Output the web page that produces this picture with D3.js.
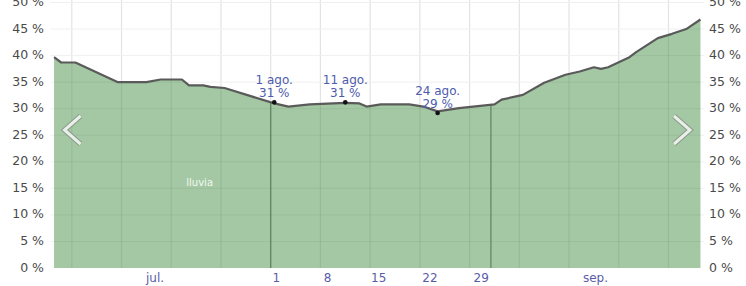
<!DOCTYPE html>
<html>
<head>
<meta charset="utf-8">
<script src="https://cdn.jsdelivr.net/npm/d3@7"></script>
<style>
  body { margin: 0; background: #fff; }
  svg { display: block; font-family: "DejaVu Sans", sans-serif; }
</style>
</head>
<body>
<svg id="chart" width="746" height="286"></svg>
<script>
// daily chance of rain (%)
var dates = ['2023-07-01','2023-07-02','2023-07-04','2023-07-10','2023-07-14','2023-07-16',
    '2023-07-19','2023-07-20','2023-07-22','2023-07-23','2023-07-25','2023-08-01','2023-08-03',
    '2023-08-06','2023-08-11','2023-08-13','2023-08-14','2023-08-16','2023-08-20','2023-08-22',
    '2023-08-24','2023-08-27','2023-09-01','2023-09-02','2023-09-05','2023-09-08','2023-09-11',
    '2023-09-13','2023-09-15','2023-09-16','2023-09-17','2023-09-20','2023-09-21','2023-09-24',
    '2023-09-26','2023-09-28','2023-09-30'];
var rainChance = [39.7, 38.7, 38.7, 35.0, 35.0, 35.5, 35.5, 34.4, 34.4, 34.1, 33.9, 31.0, 30.4,
    30.8, 31.1, 31.0, 30.4, 30.8, 30.8, 30.4, 29.5, 30.1, 30.8, 31.7, 32.6, 34.9, 36.4,
    37.0, 37.8, 37.5, 37.8, 39.7, 40.7, 43.3, 44.1, 45.0, 46.8];

// highlighted points
var markerDates = ['2023-08-01', '2023-08-11', '2023-08-24'];
var markerDay = ['1 ago.', '11 ago.', '24 ago.'];
var markerValue = [31, 31, 29];

var yTicks = [0, 5, 10, 15, 20, 25, 30, 35, 40, 45, 50];
var monthLabels = ['jul.', 'sep.'];
var monthMid = ['2023-07-16', '2023-09-16'];
var augDays = ['2023-08-01','2023-08-08','2023-08-15','2023-08-22','2023-08-29'];
var monthStarts = ['2023-08-01', '2023-09-01'];
var seriesName = 'lluvia';

var parse = d3.timeParse('%Y-%m-%d');
var noon = function(s) { return d3.timeHour.offset(parse(s), 12); };
var data = dates.map(function(d, i) { return { date: noon(d), value: rainChance[i] }; });

var svg = d3.select('#chart');
var left = 50.5, right = 704, bottom = 268;

var x = d3.scaleTime()
    .domain([parse('2023-07-01'), parse('2023-10-01')])
    .range([left, right]);
var y = d3.scaleLinear().domain([0, 50]).range([bottom, bottom - 50 * 5.31]);

var area = d3.area()
    .x(function(d) { return x(d.date); })
    .y0(bottom)
    .y1(function(d) { return y(d.value); });
var line = d3.line()
    .x(function(d) { return x(d.date); })
    .y(function(d) { return y(d.value); });

svg.append('clipPath').attr('id', 'fillclip')
    .append('path').attr('d', area(data));

// grid
var weeks = d3.timeDay.range(parse('2023-06-27'), parse('2023-10-01'), 7)
    .filter(function(d) { return x(d) > left + 4; });
svg.append('g').selectAll('line').data(weeks).enter().append('line')
    .attr('x1', function(d) { return x(d); }).attr('x2', function(d) { return x(d); })
    .attr('y1', 0).attr('y2', bottom)
    .attr('stroke', '#e3e3e3').attr('stroke-width', 1.2);
svg.append('g').selectAll('line').data(yTicks.slice(1)).enter().append('line')
    .attr('x1', left).attr('x2', right)
    .attr('y1', function(d) { return y(d); }).attr('y2', function(d) { return y(d); })
    .attr('stroke', '#f0f0f0');

svg.append('path').attr('d', area(data)).attr('fill', '#a3c8a3');

// grid seen through the fill
var inner = svg.append('g').attr('clip-path', 'url(#fillclip)');
inner.selectAll('line.v').data(weeks).enter().append('line')
    .attr('x1', function(d) { return x(d); }).attr('x2', function(d) { return x(d); })
    .attr('y1', 0).attr('y2', bottom)
    .attr('stroke', '#000').attr('stroke-opacity', 0.07).attr('stroke-width', 1.2);
inner.selectAll('line.h').data(yTicks.slice(1)).enter().append('line')
    .attr('x1', left).attr('x2', right)
    .attr('y1', function(d) { return y(d); }).attr('y2', function(d) { return y(d); })
    .attr('stroke', '#000').attr('stroke-opacity', 0.05);
inner.selectAll('line.m').data(monthStarts).enter().append('line')
    .attr('x1', function(d) { return x(parse(d)); }).attr('x2', function(d) { return x(parse(d)); })
    .attr('y1', 0).attr('y2', bottom)
    .attr('stroke', '#3d5e3e').attr('stroke-opacity', 0.6).attr('stroke-width', 1.3);

svg.append('path').attr('d', line(data))
    .attr('fill', 'none').attr('stroke', '#5a5a5a').attr('stroke-width', 2.2)
    .attr('stroke-linejoin', 'round');

// y labels both sides
var yl = svg.append('g').attr('font-size', 12.5).attr('fill', '#4a4a4a');
yl.selectAll('text.l').data(yTicks).enter().append('text')
    .attr('x', 44).attr('y', function(d) { return y(d) - 1; }).attr('dy', '0.36em')
    .attr('text-anchor', 'end').text(function(d) { return d + ' %'; });
yl.selectAll('text.r').data(yTicks).enter().append('text')
    .attr('x', 709).attr('y', function(d) { return y(d) - 1; }).attr('dy', '0.36em')
    .text(function(d) { return d + ' %'; });

// x labels
var xl = svg.append('g').attr('font-size', 12).attr('fill', '#5a5ca8').attr('text-anchor', 'middle');
xl.selectAll('text.m').data(monthLabels).enter().append('text')
    .attr('x', function(d, i) { return x(parse(monthMid[i])) - 2; }).attr('y', 282)
    .text(function(d) { return d; });
xl.selectAll('text.d').data(augDays).enter().append('text')
    .attr('x', function(d, i) { return x(noon(d)) + 2 + i * 1.5; }).attr('y', 282)
    .text(function(d) { return +d.slice(8); });

// markers + annotations
var mk = svg.append('g').selectAll('g').data(markerDates).enter().append('g')
    .attr('transform', function(d, i) {
        return 'translate(' + x(noon(d)) + ',' + y(markerValue[i] + 0.2) + ')';
    });
mk.append('circle').attr('r', 2.3).attr('fill', '#111');
mk.append('text').attr('y', -18).attr('text-anchor', 'middle').attr('font-size', 12)
    .attr('fill', '#4d5cad').text(function(d, i) { return markerDay[i]; });
mk.append('text').attr('y', -5).attr('text-anchor', 'middle').attr('font-size', 12)
    .attr('fill', '#4d5cad').text(function(d, i) { return markerValue[i] + ' %'; });

svg.append('text').attr('x', x(parse('2023-07-22'))).attr('y', 186)
    .attr('text-anchor', 'middle').attr('font-size', 10).attr('fill', '#f2f7f2')
    .text(seriesName);

// nav chevrons
var chev = svg.append('g').attr('fill', 'none').attr('stroke-linejoin', 'miter');
[[left + 30, 116, -1], [right - 30, 116, 1]].forEach(function(c) {
    var p = 'M' + c[0] + ',' + c[1] + 'l' + (c[2] * 16) + ',14l' + (-c[2] * 16) + ',14';
    chev.append('path').attr('d', p).attr('stroke', '#8a9a8a').attr('stroke-width', 5);
    chev.append('path').attr('d', p).attr('stroke', '#e9efe9').attr('stroke-width', 3);
});
</script>
</body>
</html>
